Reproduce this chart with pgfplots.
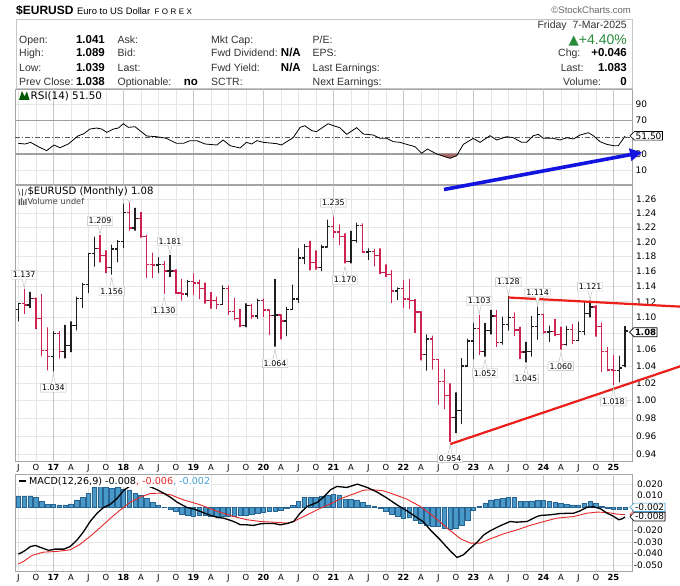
\documentclass[border=0pt]{standalone}
\usepackage{fontspec}
\setmainfont{DejaVu Sans}
\newfontfamily\lib{Liberation Sans}
\usepackage{pgfplots}
\pgfplotsset{compat=1.18}
\usepackage{pgfplotstable}
\usetikzlibrary{arrows.meta,shapes.callouts}
\newcommand\fs[1]{\fontsize{#1}{#1}\selectfont}

\definecolor{barred}{RGB}{205,35,80}
\definecolor{barblk}{RGB}{30,30,30}
\definecolor{gridc}{RGB}{230,230,230}
\definecolor{gridy}{RGB}{200,200,200}
\definecolor{framec}{RGB}{165,165,165}
\definecolor{histf}{RGB}{72,152,200}
\definecolor{histd}{RGB}{40,100,145}
\definecolor{sigred}{RGB}{230,40,40}
\definecolor{arrowblue}{RGB}{20,20,225}
\definecolor{trendred}{RGB}{235,30,25}
\definecolor{upgreen}{RGB}{40,140,60}
\definecolor{rsifill}{RGB}{170,105,105}
\definecolor{lightblue}{RGB}{70,160,210}

\pgfplotstableread{
m o h l c r
-6 1.1104 1.1186 1.0952 1.1174 0
-5 1.1174 1.1366 1.1045 1.1157 1
-4 1.1157 1.1327 1.1122 1.1240 0
-3 1.1240 1.1255 1.0852 1.0983 1
-2 1.0983 1.1300 1.0518 1.0588 1
-1 1.0588 1.0874 1.0352 1.0517 1
0 1.0517 1.0829 1.0340 1.0797 0
1 1.0797 1.0829 1.0495 1.0575 1
2 1.0575 1.0906 1.0494 1.0652 0
3 1.0652 1.0950 1.0569 1.0895 0
4 1.0895 1.1268 1.0839 1.1242 0
5 1.1242 1.1445 1.1119 1.1426 0
6 1.1426 1.1846 1.1312 1.1842 0
7 1.1842 1.2070 1.1662 1.1908 0
8 1.1908 1.2092 1.1718 1.1814 1
9 1.1814 1.1880 1.1574 1.1646 1
10 1.1646 1.1961 1.1554 1.1902 0
11 1.1902 1.2023 1.1717 1.2005 0
12 1.2005 1.2537 1.1916 1.2414 0
13 1.2414 1.2555 1.2155 1.2193 1
14 1.2193 1.2476 1.2155 1.2324 0
15 1.2324 1.2414 1.2056 1.2075 1
16 1.2075 1.2097 1.1510 1.1692 1
17 1.1692 1.1852 1.1508 1.1684 1
18 1.1684 1.1791 1.1575 1.1691 0
19 1.1691 1.1734 1.1301 1.1604 1
20 1.1604 1.1815 1.1526 1.1605 0
21 1.1605 1.1625 1.1302 1.1311 1
22 1.1311 1.1500 1.1216 1.1300 1
23 1.1300 1.1486 1.1268 1.1466 0
24 1.1466 1.1570 1.1290 1.1446 1
25 1.1446 1.1489 1.1234 1.1372 1
26 1.1372 1.1448 1.1176 1.1217 1
27 1.1217 1.1324 1.1111 1.1216 1
28 1.1216 1.1265 1.1107 1.1169 1
29 1.1169 1.1412 1.1160 1.1373 0
30 1.1373 1.1412 1.1028 1.1075 1
31 1.1075 1.1250 1.0963 1.0986 1
32 1.0986 1.1110 1.0879 1.0898 1
33 1.0898 1.1180 1.0879 1.1152 0
34 1.1152 1.1176 1.0981 1.1017 1
35 1.1017 1.1240 1.0981 1.1213 0
36 1.1213 1.1239 1.1008 1.1093 1
37 1.1093 1.1095 1.0778 1.1027 1
38 1.1027 1.1495 1.0636 1.1031 0
39 1.1031 1.1039 1.0727 1.0955 1
40 1.0955 1.1136 1.0767 1.1100 0
41 1.1100 1.1422 1.1095 1.1234 0
42 1.1234 1.1909 1.1185 1.1779 0
43 1.1779 1.1966 1.1696 1.1936 0
44 1.1936 1.2011 1.1612 1.1721 1
45 1.1721 1.1881 1.1622 1.1646 1
46 1.1646 1.1960 1.1603 1.1926 0
47 1.1926 1.2310 1.1923 1.2216 0
48 1.2216 1.2349 1.2054 1.2136 1
49 1.2136 1.2243 1.1952 1.2075 1
50 1.2075 1.2114 1.1704 1.1729 1
51 1.1729 1.2150 1.1704 1.2019 0
52 1.2019 1.2266 1.1986 1.2228 0
53 1.2228 1.2254 1.1847 1.1857 1
54 1.1857 1.1909 1.1752 1.1870 0
55 1.1870 1.1901 1.1664 1.1809 1
56 1.1809 1.1909 1.1563 1.1579 1
57 1.1579 1.1692 1.1524 1.1558 1
58 1.1558 1.1616 1.1186 1.1338 1
59 1.1338 1.1386 1.1222 1.1370 0
60 1.1370 1.1483 1.1121 1.1235 1
61 1.1235 1.1495 1.1106 1.1218 1
62 1.1218 1.1233 1.0806 1.1067 1
63 1.1067 1.1076 1.0471 1.0545 1
64 1.0545 1.0787 1.0349 1.0733 0
65 1.0733 1.0774 1.0359 1.0484 1
66 1.0484 1.0488 0.9952 1.0220 1
67 1.0220 1.0369 0.9900 1.0055 1
68 1.0055 1.0198 0.9536 0.9802 1
69 0.9802 1.0094 0.9632 0.9884 0
70 0.9884 1.0497 0.9730 1.0404 0
71 1.0404 1.0736 1.0393 1.0705 0
72 1.0705 1.0929 1.0483 1.0863 0
73 1.0863 1.1033 1.0533 1.0576 1
74 1.0576 1.0930 1.0516 1.0839 0
75 1.0839 1.1095 1.0788 1.1019 0
76 1.1019 1.1092 1.0635 1.0689 1
77 1.0689 1.1012 1.0662 1.0910 0
78 1.0910 1.1276 1.0834 1.0998 0
79 1.0998 1.1065 1.0766 1.0843 1
80 1.0843 1.0882 1.0488 1.0573 1
81 1.0573 1.0695 1.0448 1.0575 0
82 1.0575 1.1017 1.0516 1.0888 0
83 1.0888 1.1139 1.0723 1.1039 0
84 1.1039 1.1046 1.0796 1.0818 1
85 1.0818 1.0897 1.0695 1.0820 0
86 1.0820 1.0981 1.0768 1.0790 1
87 1.0790 1.0885 1.0601 1.0667 1
88 1.0667 1.0895 1.0650 1.0848 0
89 1.0848 1.0916 1.0668 1.0713 1
90 1.0713 1.0948 1.0709 1.0826 0
91 1.0826 1.1202 1.0778 1.1047 0
92 1.1047 1.1214 1.1002 1.1135 0
93 1.1135 1.1153 1.0761 1.0884 1
94 1.0884 1.0937 1.0332 1.0577 1
95 1.0577 1.0630 1.0343 1.0354 1
96 1.0354 1.0533 1.0178 1.0350 1
97 1.0350 1.0528 1.0210 1.0380 0
98 1.0410 1.0890 1.0390 1.0830 0
}\ohlc

\pgfplotsset{
  panel/.style={
    scale only axis, width=617pt, anchor=south west,
    xmin=-6.58, xmax=99.19,
    axis line style={draw=framec, line width=0.7pt},
    major tick length=0pt,
    xtick={-6,-3,...,96},
    xmajorgrids, ymajorgrids,
    major grid style={draw=gridc, line width=0.6pt},
    extra x ticks={0,12,...,96},
    extra x tick labels={},
    extra x tick style={major grid style={draw=gridy, line width=0.7pt}},
    yticklabel pos=right,
    y tick label style={font=\fs{9}},
    x tick label style={font=\fs{8.4}, anchor=base, inner sep=0pt, yshift=-9.7pt},
    clip=false,
  },
  xlabs/.style={xticklabels={J,O,\textbf{17},A,J,O,\textbf{18},A,J,O,\textbf{19},A,J,O,\textbf{20},A,J,O,\textbf{21},A,J,O,\textbf{22},A,J,O,\textbf{23},A,J,O,\textbf{24},A,J,O,\textbf{25}}},
}
\tikzset{
  lblA/.style={rectangle callout, draw=gray!55, fill=white, font=\fs{7.9}, inner xsep=1.4pt, inner ysep=1.3pt,
    callout relative pointer={(0pt,-8.8pt)}, callout pointer width=4pt, anchor=pointer},
  lblB/.style={rectangle callout, draw=gray!55, fill=white, font=\fs{7.9}, inner xsep=1.4pt, inner ysep=1.3pt,
    callout relative pointer={(0pt,9.3pt)}, callout pointer width=4pt, anchor=pointer, yshift=-2pt},
  hl/.style={anchor=base west, inner sep=0pt, font=\lib\fs{10.5}, text=black!80},
  hv/.style={anchor=base east, inner sep=0pt, font=\lib\bfseries\fs{11.5}},
}

\begin{document}
\begin{tikzpicture}[x=1pt,y=1pt]
\useasboundingbox (0,0) rectangle (680,586);
\fill[white] (0,0) rectangle (680,586);

% ---------- top title ----------
\node[anchor=base west, inner sep=0pt, font=\lib\bfseries\fs{12}] at (16,571) {\$EURUSD};
\node[anchor=base west, inner sep=0pt, font=\lib\fs{9.4}] at (77,571.6) {Euro to US Dollar};
\node[anchor=base west, inner sep=0pt, font=\lib\fs{8}] at (154.5,571.7) {F\hspace{2.4pt}O\hspace{2.4pt}R\hspace{2.4pt}E\hspace{2.4pt}X};
\node[anchor=base east, inner sep=0pt, font=\lib\fs{9.5}, text=black!60] at (631,572) {\textcopyright StockCharts.com};

% ---------- header box ----------
\draw[gray!45, line width=0.7pt] (16,497.3) rectangle (632,566.7);
\node[hl] at (19,542.3) {Open:};      \node[hv] at (105,542.3) {1.041};
\node[hl] at (19,529) {High:};        \node[hv] at (105,529) {1.089};
\node[hl] at (19,514) {Low:};         \node[hv] at (105,514) {1.039};
\node[hl] at (19,500.6) {Prev Close:};\node[hv] at (105,500.6) {1.038};
\node[hl] at (117.5,542.3) {Ask:};
\node[hl] at (117.5,529) {Bid:};
\node[hl] at (117.5,514) {Last:};
\node[hl] at (117.5,500.6) {Optionable:}; \node[hv] at (198,500.6) {no};
\node[hl] at (211,542.3) {Mkt Cap:};
\node[hl] at (211,529) {Fwd Dividend:}; \node[hv] at (301,529) {N/A};
\node[hl] at (211,514) {Fwd Yield:};    \node[hv] at (301,514) {N/A};
\node[hl] at (211,500.6) {SCTR:};
\node[hl] at (312.5,542.3) {P/E:};
\node[hl] at (312.5,529) {EPS:};
\node[hl] at (312.5,514) {Last Earnings:};
\node[hl] at (312.5,500.6) {Next Earnings:};
\node[anchor=base east, inner sep=0pt, font=\lib\fs{10.5}, text=black!80] at (627,557.3) {Friday\ \ 7-Mar-2025};
\node[anchor=base east, inner sep=0pt, font=\lib\fs{14}, text=upgreen] at (627,541.2) {{\fontspec{DejaVu Sans}\fs{13.5}\char"25B2}+4.40\%};
\node[hl] at (558,529) {Chg:};     \node[hv] at (627,529) {+0.046};
\node[hl] at (560.6,514) {Last:};  \node[hv] at (627,514) {1.083};
\node[hl] at (563,500.6) {Volume:};\node[hv] at (627,500.6) {0};

% ---------- RSI panel ----------
\begin{axis}[panel, at={(15pt,401.7pt)}, height=95.3pt,
  ymin=-6.4, ymax=108.1,
  ytick={10,30,70,90}, yticklabels={10,30,70,90},
  y tick label style={anchor=west, inner sep=0pt, xshift=3.5pt},
  xticklabels={}]
\draw[gray!75, line width=1.5pt] (axis cs:-6.58,70) -- (axis cs:99.19,70);
\draw[gray!75, line width=1.5pt] (axis cs:-6.58,30) -- (axis cs:99.19,30);
\draw[black!65, line width=0.6pt, dash pattern=on 5pt off 2pt on 1pt off 2pt] (axis cs:-6.58,50) -- (axis cs:99.19,50);
\addplot[fill=rsifill, draw=none] coordinates {(65.7,30) (68.0,24.8) (69.13,28.0) (69.5,30)};
\addplot[black, line width=0.8pt] coordinates {
(-6,42.8) (-4.87,42.0) (-3.9,44.0) (-2.58,38.8) (-1.15,34.0) (0.1,40.8) (1.13,37.6) (2.56,42.0)
(4.27,52.0) (5.13,54.0) (6.27,60.0) (7.42,61.2) (8.28,60.0) (9.14,56.0) (10.28,60.0) (11.14,61.2)
(11.99,66.4) (12.85,62.0) (13.99,62.8) (16.0,51.6) (17.7,50.8) (19.4,48.8) (21.1,42.8) (22.3,42.8)
(23.4,46.0) (24.6,46.0) (26.0,42.0) (28.0,40.8) (29.1,46.8) (30.3,40.0) (32.0,37.2) (33.1,44.0)
(34.0,42.0) (34.9,46.0) (36.0,44.0) (38.3,42.4) (39.1,40.8) (41.1,49.6) (42.3,62.0) (43.1,64.0)
(44.3,58.0) (45.1,56.8) (47.1,66.4) (48.0,64.0) (49.1,61.6) (50.28,53.6) (51.99,61.6) (53.13,54.0)
(54.85,52.8) (55.99,48.8) (57.13,48.8) (58.28,44.8) (59.42,44.0) (60.56,41.6) (61.99,38.8) (63.13,30.8)
(64.1,36.0) (65.7,30.0) (68.0,24.8) (69.13,28.0) (70.28,41.6) (71.99,48.8) (73.13,44.0) (74.85,52.0)
(75.99,46.8) (77.71,50.8) (78.85,49.6) (80.28,44.0) (81.14,44.0) (82.28,52.0) (83.13,53.6) (83.99,48.8)
(85.71,48.8) (86.85,46.8) (87.99,49.6) (89.14,48.0) (90.28,52.8) (91.71,55.6) (92.56,52.0) (93.71,44.8)
(94.85,41.6) (95.99,40.0) (96.85,40.0) (98,51.5)};
\end{axis}

% ---------- price panel ----------
\begin{axis}[panel, xlabs, at={(15pt,125pt)}, height=276pt,
  ymode=log, ymin=0.93274, ymax=1.2808,
  ytick={0.94,0.96,0.98,1.00,1.02,1.04,1.06,1.08,1.10,1.12,1.14,1.16,1.18,1.20,1.22,1.24,1.26},
  yticklabels={0.94,0.96,0.98,1.00,1.02,1.04,1.06,,1.10,1.12,1.14,1.16,1.18,1.20,1.22,1.24,1.26},
  y tick label style={anchor=west, inner sep=0pt, xshift=4pt}]
\pgfplotsinvokeforeach{0,...,104}{%
  \pgfplotstablegetelem{#1}{m}\of\ohlc\let\ohM\pgfplotsretval
  \pgfplotstablegetelem{#1}{o}\of\ohlc\let\ohO\pgfplotsretval
  \pgfplotstablegetelem{#1}{h}\of\ohlc\let\ohH\pgfplotsretval
  \pgfplotstablegetelem{#1}{l}\of\ohlc\let\ohL\pgfplotsretval
  \pgfplotstablegetelem{#1}{c}\of\ohlc\let\ohC\pgfplotsretval
  \pgfplotstablegetelem{#1}{r}\of\ohlc\let\ohR\pgfplotsretval
  \pgfmathsetmacro\ohXL{\ohM-0.45}%
  \pgfmathsetmacro\ohXR{\ohM+0.45}%
  \ifnum\ohR=1 \def\ohcol{barred}\else\def\ohcol{barblk}\fi
  \edef\ohtmp{\noexpand\addplot[draw=\ohcol, line width=1.35pt, line join=bevel] coordinates {(\ohXL,\ohO) (\ohM,\ohO) (\ohM,\ohL) (\ohM,\ohH) (\ohM,\ohC) (\ohXR,\ohC)};}%
  \ohtmp
}
% trend lines
\draw[trendred, line width=2.2pt] (axis cs:68,0.951) -- (axis cs:107.6,1.0403);
\draw[trendred, line width=2.2pt] (axis cs:78,1.1255) -- (axis cs:107.6,1.1137);
% labels
\node[lblA] at (axis cs:-5,1.1366) {1.137};
\node[lblA] at (axis cs:8,1.2092) {1.209};
\node[lblA] at (axis cs:20,1.1815) {1.181};
\node[lblA] at (axis cs:48,1.2349) {1.235};
\node[lblA] at (axis cs:73,1.1033) {1.103};
\node[lblA] at (axis cs:78,1.1276) {1.128};
\node[lblA] at (axis cs:83,1.1139) {1.114};
\node[lblA] at (axis cs:92,1.1214) {1.121};
\node[lblB] at (axis cs:0,1.0340) {1.034};
\node[lblB] at (axis cs:10,1.1554) {1.156};
\node[lblB] at (axis cs:19,1.1301) {1.130};
\node[lblB] at (axis cs:38,1.0636) {1.064};
\node[lblB] at (axis cs:50,1.1704) {1.170};
\node[lblB] at (axis cs:68,0.9536) {0.954};
\node[lblB] at (axis cs:74,1.0516) {1.052};
\node[lblB] at (axis cs:81,1.0448) {1.045};
\node[lblB] at (axis cs:87,1.0601) {1.060};
\node[lblB] at (axis cs:96,1.0178) {1.018};
% pointer of the label hidden under the title
\fill[white, draw=gray!55, line width=0.4pt] (axis cs:13,1.2555) ++(-2pt,3.5pt) -- ++(2pt,-3.5pt) -- ++(2pt,3.5pt);
\end{axis}

% ---------- MACD panel ----------
\begin{axis}[panel, xlabs, at={(15pt,15pt)}, height=96.7pt,
  ymin=-0.0552, ymax=0.0284, scaled y ticks=false,
  ytick={-0.05,-0.04,-0.03,-0.02,-0.01,0,0.01,0.02},
  yticklabels={-0.050,-0.040,-0.030,-0.020,,,0.010,0.020},
  y tick label style={anchor=east, inner sep=0pt, xshift=31pt}]
\addplot[ybar, bar width=4.6pt, fill=histf, draw=histd, line width=0.5pt] coordinates {
(-6,0.0092) (-5,0.0092) (-4,0.0098) (-3,0.0084) (-2,0.0049) (-1,0.0026) (0,0.0026) (1,0.0020) (2,0.0020)
(3,0.0029) (4,0.0063) (5,0.0086) (6,0.0121) (7,0.0170) (8,0.0179) (9,0.0170) (10,0.0164) (11,0.0170)
(12,0.0158) (13,0.0150) (14,0.0121) (15,0.0101) (16,0.0078) (17,0.0040) (18,0.0020) (19,-0.0003)
(20,-0.0017) (21,-0.0037) (22,-0.0060) (23,-0.0072) (24,-0.0075) (25,-0.0072) (26,-0.0072) (27,-0.0075)
(28,-0.0081) (29,-0.0081) (30,-0.0081) (31,-0.0081) (32,-0.0072) (33,-0.0066) (34,-0.0060) (35,-0.0052)
(36,-0.0043) (37,-0.0037) (38,-0.0032) (39,-0.0023) (40,-0.0009) (41,0.0014) (42,0.0049) (43,0.0086)
(44,0.0086) (45,0.0084) (46,0.0092) (47,0.0107) (48,0.0112) (49,0.0107) (50,0.0069) (51,0.0069)
(52,0.0063) (53,0.0043) (54,0.0020) (55,0.0006) (56,-0.0009) (57,-0.0032) (58,-0.0060) (59,-0.0081)
(60,-0.0095) (61,-0.0089) (62,-0.0109) (63,-0.0138) (64,-0.0153) (65,-0.0161) (66,-0.0167) (67,-0.0181)
(68,-0.0190) (69,-0.0181) (70,-0.0153) (71,-0.0109) (72,-0.0023) (73,0.0006) (74,0.0035) (75,0.0063)
(76,0.0069) (77,0.0078) (78,0.0086) (79,0.0084) (80,0.0049) (81,0.0049) (82,0.0055) (83,0.0060)
(84,0.0060) (85,0.0049) (86,0.0043) (87,0.0035) (88,0.0026) (89,0.0020) (90,0.0020) (91,0.0035)
(92,0.0049) (93,0.0035) (94,0.0006) (95,-0.0009) (96,-0.0020) (97,-0.0020) (98,-0.0020)};
\addplot[sigred, line width=0.9pt] coordinates {
(-6,-0.0492) (-5.1,-0.0469) (-3.7,-0.0418) (-1.7,-0.0389) (0.6,-0.0383) (2.9,-0.0369) (4.6,-0.0320)
(6.3,-0.0253) (8.1,-0.0173) (9.8,-0.0095) (11.5,-0.0023) (13.2,0.0043) (14.9,0.0086) (16.6,0.0118)
(18.3,0.0121) (20.1,0.0107) (22.3,0.0063) (25.2,0.0020) (28.1,-0.0037) (30.9,-0.0081) (33.2,-0.0109)
(35.5,-0.0124) (37.8,-0.0130) (40.1,-0.0138) (41.2,-0.0124) (43.5,-0.0066) (45.8,-0.0009) (48.1,0.0043)
(49.2,0.0072) (51.5,0.0115) (53.2,0.0147) (54.9,0.0150) (56.6,0.0141) (58.3,0.0112) (60.6,0.0069)
(62.9,0.0006) (65.2,-0.0081) (67.5,-0.0181) (69.8,-0.0274) (71.5,-0.0311) (73.2,-0.0311) (74.9,-0.0274)
(77.2,-0.0230) (79.5,-0.0196) (81.7,-0.0158) (84.1,-0.0124) (86.3,-0.0095) (89.2,-0.0081) (91.5,-0.0052)
(93.2,-0.0043) (94.9,-0.0046) (96.6,-0.0060) (98.0,-0.0065)};
\addplot[black, line width=1.3pt] coordinates {
(-6,-0.0406) (-5.1,-0.0383) (-3.9,-0.0340) (-3.1,-0.0331) (-2.2,-0.0348) (-0.8,-0.0374) (0.3,-0.0363)
(1.8,-0.0363) (2.9,-0.0340) (4.1,-0.0282) (5.2,-0.0210) (6.3,-0.0124) (7.5,-0.0052) (8.6,-0.0003)
(9.8,0.0026) (10.9,0.0075) (12.1,0.0147) (13.5,0.0195) (15.0,0.0205) (16.9,0.0170) (17.8,0.0150)
(18.9,0.0121) (20.1,0.0084) (21.2,0.0043) (22.9,-0.0003) (24.1,-0.0017) (25.2,-0.0037) (26.3,-0.0060)
(28.1,-0.0089) (29.2,-0.0095) (30.9,-0.0124) (32.1,-0.0153) (33.2,-0.0153) (34.3,-0.0158) (35.5,-0.0144)
(36.6,-0.0141) (37.8,-0.0141) (38.9,-0.0153) (40.1,-0.0141) (41.2,-0.0124) (42.3,-0.0052) (43.5,0.0006)
(45.2,0.0040) (46.3,0.0086) (47.5,0.0150) (48.6,0.0179) (50.3,0.0170) (52.1,0.0199) (53.8,0.0170)
(55.5,0.0130) (57.2,0.0078) (58.9,0.0020) (60.6,-0.0032) (62.3,-0.0089) (63.5,-0.0130) (64.6,-0.0196)
(66.3,-0.0282) (68.0,-0.0377) (69.2,-0.0435) (70.3,-0.0412) (71.5,-0.0354) (72.6,-0.0305) (73.8,-0.0239)
(74.9,-0.0204) (76.6,-0.0161) (78.3,-0.0124) (79.4,-0.0130) (81.2,-0.0124) (82.9,-0.0081) (83.5,-0.0072)
(85.2,-0.0066) (86.9,-0.0055) (89.2,-0.0052) (90.3,-0.0032) (91.5,0.0000) (92.6,0.0003) (93.8,-0.0014)
(94.9,-0.0052) (96.1,-0.0081) (96.9,-0.0109) (97.5,-0.0101) (98.0,-0.0085)};
\end{axis}

% ---------- panel titles ----------
\fill[green!35!black] (19,486) -- (22,495) -- (24.5,489.5) -- (27,494.5) -- (29.5,486) -- cycle;
\node[anchor=west, inner sep=1pt, font=\fs{10.4}] at (29.5,490) {RSI(14) 51.50};
\draw[gray!70!black, line width=0.7pt] (18.5,396.5)--(20,390.5) (22.5,397)--(22.5,390) (26.5,396.5)--(25,390.5);
\node[anchor=west, inner sep=1pt, fill=white, font=\fs{10.1}] at (26.3,394.3) {\$EURUSD (Monthly) 1.08};
\fill[gray!70!black] (18.5,381) rectangle (19.8,386.5) (20.8,381) rectangle (22.1,388) (23.1,381) rectangle (24.4,385.5) (25.4,381) rectangle (26.5,387);
\node[anchor=west, inner sep=0pt, font=\fs{8.2}, text=black!75] at (27.3,385) {Volume undef};
\node[anchor=west, inner sep=1pt, fill=white, font=\fs{9.6}] at (17.5,104.5) {\raisebox{2.6pt}{\rule{7pt}{1.6pt}}\hspace{3.5pt}MACD(12,26,9) -0.008{\color{sigred}, -0.006}{\color{lightblue}, -0.002}};

% ---------- value boxes on the right ----------
% RSI 51.50
\draw[draw=black, fill=white, line width=0.6pt] (630,450.2) -- (634.5,454.5) -- (662.5,454.5) -- (662.5,445.9) -- (634.5,445.9) -- cycle;
\node[anchor=west, inner sep=0pt, font=\fs{9}] at (635.5,450.2) {51.50};
% price 1.08
\draw[draw=black, fill=white, line width=0.7pt] (629.5,253.8) -- (634,258.3) -- (657,258.3) -- (657,249.3) -- (634,249.3) -- cycle;
\node[anchor=west, inner sep=0pt, font=\bfseries\fs{8.6}] at (634.8,253.8) {1.08};
% MACD boxes
\draw[draw=sigred, fill=white, line width=0.6pt] (630,71.4) -- (634,75.6) -- (665,75.6) -- (665,67.2) -- (634,67.2) -- cycle;
\draw[draw=lightblue, fill=white, line width=0.6pt] (630,78.7) -- (634,82.9) -- (665,82.9) -- (665,74.5) -- (634,74.5) -- cycle;
\node[anchor=west, inner sep=0pt, font=\fs{9}] at (635,78.7) {-0.002};
\draw[draw=black, fill=white, line width=0.6pt] (630,69.3) -- (634,73.6) -- (665,73.6) -- (665,65) -- (634,65) -- cycle;
\node[anchor=west, inner sep=0pt, font=\fs{9}] at (635,69.3) {-0.008};

% ---------- blue arrow ----------
\draw[arrowblue, line width=3.6pt, -{Triangle[length=12pt,width=12pt]}] (444,396.5) -- (642,433.5);
\end{tikzpicture}
\end{document}
